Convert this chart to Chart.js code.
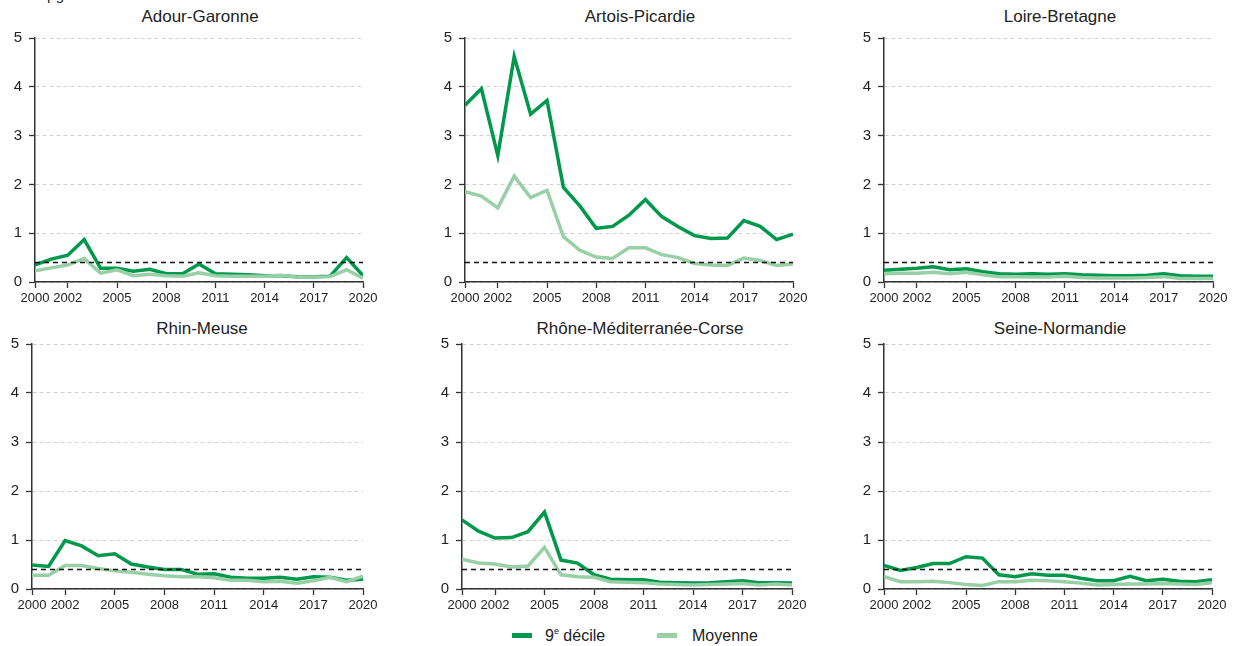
<!DOCTYPE html>
<html lang="fr">
<head>
<meta charset="utf-8">
<script src="https://cdn.jsdelivr.net/npm/chart.js@4.4.1/dist/chart.umd.min.js"></script>
<style>
  body {
    margin: 0;
    width: 1236px;
    height: 646px;
    position: relative;
    overflow: hidden;
    background: #fff;
    font-family: "Liberation Sans", Arial, sans-serif;
    color: #222;
  }
  canvas { position: absolute; }
  .titre {
    position: absolute;
    font-size: 17px;
    line-height: 20px;
    white-space: nowrap;
    transform: translateX(-50%);
  }
  .unite { position: absolute; left: 47px; top: -13px; font-size: 15px; line-height: 15px; }
  .swatch { position: absolute; width: 20px; height: 5px; }
  .leg { position: absolute; font-size: 16px; line-height: 20px; white-space: nowrap; }
  .leg sup { font-size: 9px; vertical-align: 7px; line-height: 0; }
</style>
</head>
<body>
<div class="unite">µg/l</div>

<script>
const years = [2000, 2001, 2002, 2003, 2004, 2005, 2006, 2007, 2008, 2009, 2010,
               2011, 2012, 2013, 2014, 2015, 2016, 2017, 2018, 2019, 2020];
const xTicks = [2000, 2002, 2005, 2008, 2011, 2014, 2017, 2020];
const yTicks = [0, 1, 2, 3, 4, 5];
const seuil = 0.4;

const adourDecile   = [0.35, 0.47, 0.55, 0.87, 0.28, 0.28, 0.22, 0.26, 0.17, 0.17, 0.37, 0.17, 0.16, 0.15, 0.13, 0.13, 0.11, 0.11, 0.12, 0.50, 0.13];
const adourMoyenne  = [0.23, 0.29, 0.35, 0.48, 0.18, 0.25, 0.13, 0.16, 0.13, 0.12, 0.19, 0.13, 0.12, 0.12, 0.12, 0.14, 0.10, 0.10, 0.11, 0.25, 0.08];

const artoisDecile  = [3.62, 3.96, 2.59, 4.62, 3.44, 3.72, 1.94, 1.56, 1.10, 1.14, 1.37, 1.69, 1.34, 1.13, 0.95, 0.89, 0.90, 1.26, 1.14, 0.87, 0.98];
const artoisMoyenne = [1.85, 1.76, 1.52, 2.17, 1.73, 1.88, 0.93, 0.65, 0.51, 0.48, 0.70, 0.70, 0.56, 0.50, 0.38, 0.35, 0.34, 0.49, 0.44, 0.34, 0.37];

const loireDecile   = [0.24, 0.26, 0.28, 0.31, 0.25, 0.27, 0.21, 0.17, 0.16, 0.17, 0.16, 0.17, 0.15, 0.14, 0.13, 0.13, 0.14, 0.17, 0.13, 0.12, 0.12];
const loireMoyenne  = [0.17, 0.18, 0.18, 0.20, 0.17, 0.20, 0.15, 0.11, 0.11, 0.10, 0.10, 0.12, 0.09, 0.08, 0.08, 0.08, 0.09, 0.11, 0.07, 0.07, 0.07];

const rhinDecile    = [0.49, 0.46, 0.99, 0.88, 0.68, 0.72, 0.51, 0.45, 0.40, 0.40, 0.30, 0.31, 0.24, 0.22, 0.22, 0.24, 0.20, 0.25, 0.24, 0.18, 0.20];
const rhinMoyenne   = [0.28, 0.28, 0.48, 0.48, 0.42, 0.37, 0.34, 0.30, 0.27, 0.25, 0.25, 0.23, 0.18, 0.18, 0.15, 0.16, 0.12, 0.17, 0.24, 0.15, 0.26];

const rhoneDecile   = [1.41, 1.18, 1.04, 1.05, 1.17, 1.57, 0.59, 0.53, 0.29, 0.20, 0.19, 0.19, 0.14, 0.13, 0.12, 0.13, 0.15, 0.17, 0.13, 0.13, 0.12];
const rhoneMoyenne  = [0.61, 0.53, 0.51, 0.45, 0.47, 0.85, 0.29, 0.25, 0.24, 0.15, 0.14, 0.13, 0.10, 0.09, 0.08, 0.09, 0.10, 0.11, 0.08, 0.10, 0.08];

const seineDecile   = [0.48, 0.38, 0.44, 0.52, 0.52, 0.66, 0.63, 0.29, 0.25, 0.31, 0.28, 0.28, 0.22, 0.17, 0.17, 0.26, 0.17, 0.20, 0.16, 0.15, 0.19];
const seineMoyenne  = [0.25, 0.15, 0.15, 0.16, 0.13, 0.09, 0.07, 0.15, 0.15, 0.18, 0.17, 0.15, 0.12, 0.08, 0.09, 0.10, 0.10, 0.11, 0.10, 0.09, 0.13];

const VERT_FONCE = '#00984b';
const VERT_CLAIR = '#98cfa6';

// emplacement de chaque petit graphique dans la page
// (le haut du canvas laisse 16px pour la demi-hauteur du libellé "5")
const panneaux = [
  { titre: 'Adour-Garonne', decile: adourDecile, moyenne: adourMoyenne, left: 0, top: 22, w: 383, h: 286, axe: 35, centre: 200, titreTop: 7 },
  { titre: 'Artois-Picardie', decile: artoisDecile, moyenne: artoisMoyenne, left: 430, top: 22, w: 383, h: 286, axe: 35, centre: 640, titreTop: 7 },
  { titre: 'Loire-Bretagne', decile: loireDecile, moyenne: loireMoyenne, left: 849, top: 22, w: 384, h: 286, axe: 35, centre: 1060, titreTop: 7 },
  { titre: 'Rhin-Meuse', decile: rhinDecile, moyenne: rhinMoyenne, left: 0, top: 328, w: 383, h: 287, axe: 32, centre: 202, titreTop: 319 },
  { titre: 'Rhône-Méditerranée-Corse', decile: rhoneDecile, moyenne: rhoneMoyenne, left: 430, top: 328, w: 382, h: 287, axe: 32, centre: 640, titreTop: 319 },
  { titre: 'Seine-Normandie', decile: seineDecile, moyenne: seineMoyenne, left: 849, top: 328, w: 383, h: 287, axe: 35, centre: 1060, titreTop: 319 },
];

function points(vals) {
  return years.map((y, i) => ({ x: y, y: vals[i] }));
}

function drawPanel(p) {
  const t = document.createElement('div');
  t.className = 'titre';
  t.textContent = p.titre;
  t.style.left = p.centre + 'px';
  t.style.top = p.titreTop + 'px';
  document.body.appendChild(t);

  const canvas = document.createElement('canvas');
  canvas.width = p.w;
  canvas.height = p.h;
  canvas.style.left = p.left + 'px';
  canvas.style.top = p.top + 'px';
  document.body.appendChild(canvas);

  new Chart(canvas.getContext('2d'), {
    type: 'line',
    data: {
      datasets: [
        {
          label: 'Seuil',
          data: [{ x: years[0], y: seuil }, { x: years[years.length - 1], y: seuil }],
          borderColor: '#111',
          borderWidth: 1.5,
          borderDash: [5, 4],
          pointRadius: 0,
        },
        {
          label: 'Moyenne',
          data: points(p.moyenne),
          borderColor: VERT_CLAIR,
          borderWidth: 3.5,
          pointRadius: 0,
          tension: 0,
        },
        {
          label: '9e décile',
          data: points(p.decile),
          borderColor: VERT_FONCE,
          borderWidth: 3.5,
          pointRadius: 0,
          tension: 0,
        },
      ],
    },
    options: {
      responsive: false,
      animation: false,
      events: [],
      layout: { padding: { top: 10, right: 20, bottom: 0, left: 0 } },
      plugins: { legend: { display: false }, title: { display: false }, tooltip: { enabled: false } },
      scales: {
        x: {
          type: 'linear',
          min: 2000,
          max: 2020,
          afterBuildTicks: (scale) => { scale.ticks = xTicks.map((v) => ({ value: v })); },
          afterFit: (scale) => { scale.height = 26; },
          ticks: {
            callback: (v) => String(v),
            color: '#222',
            font: { family: '"Liberation Sans", Arial, sans-serif', size: 13 },
            padding: 3,
            maxRotation: 0,
            autoSkip: false,
          },
          grid: { drawOnChartArea: false, drawTicks: true, tickLength: 6, tickColor: '#333', tickWidth: 1.3 },
          border: { display: true, color: '#333', width: 1.5 },
        },
        y: {
          min: 0,
          max: 5,
          afterBuildTicks: (scale) => { scale.ticks = yTicks.map((v) => ({ value: v })); },
          afterFit: (scale) => { scale.width = p.axe; },
          ticks: {
            color: '#222',
            font: { family: '"Liberation Sans", Arial, sans-serif', size: 15 },
            padding: 7,
          },
          grid: { color: '#d2d2d2', lineWidth: 1, tickColor: '#333', tickLength: 6, tickWidth: 1.3 },
          border: { display: true, color: '#333', width: 1.5, dash: [4, 3] },
        },
      },
    },
  });
}

panneaux.forEach(drawPanel);
</script>

<div class="swatch" style="left:512px; top:633px; background:#00984b;"></div>
<div class="leg" style="left:545px; top:626px;">9<sup>e</sup> décile</div>
<div class="swatch" style="left:657px; top:633px; background:#98cfa6;"></div>
<div class="leg" style="left:692px; top:626px;">Moyenne</div>
</body>
</html>
